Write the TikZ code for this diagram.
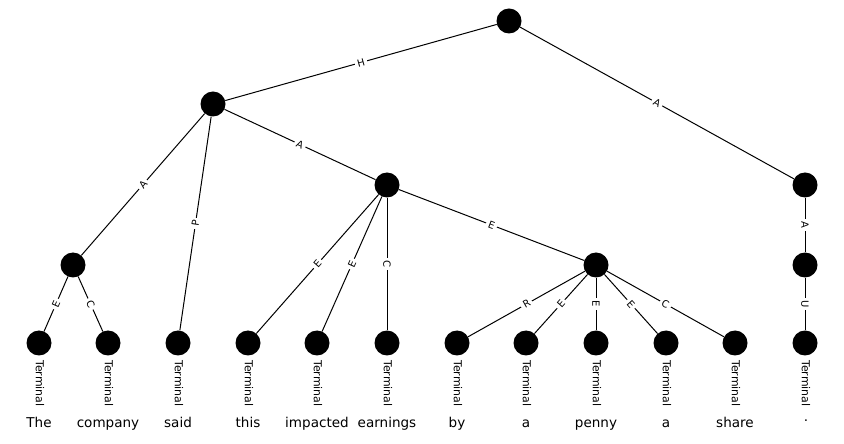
\documentclass[tikz,border=0pt]{standalone}
\usepackage{fontspec}
\setmainfont{DejaVu Sans}
\begin{document}
\begin{tikzpicture}[x=1bp,y=-1bp,
  vtx/.style={circle,fill=black,minimum size=25bp,inner sep=0pt},
  conn/.style={line width=1bp,black},
  elab/.style={midway,sloped,fill=white,inner sep=2.5bp,font=\fontsize{10}{11}\selectfont},
  vlab/.style={midway,rotate=-90,fill=white,inner sep=2.5bp,font=\fontsize{10}{11}\selectfont},
  termlab/.style={rotate=-90,anchor=west,inner sep=0pt,font=\fontsize{11}{12}\selectfont},
  word/.style={anchor=base,inner sep=0pt,font=\fontsize{13.6}{15}\selectfont}]
\useasboundingbox (0,0) rectangle (844,444);
% internal nodes
\node[vtx] (r) at (509,21) {};
\node[vtx] (n1) at (213,104) {};
\node[vtx] (n2) at (387,185) {};
\node[vtx] (n3) at (805,185) {};
\node[vtx] (n4) at (73,265) {};
\node[vtx] (n5) at (596,265) {};
\node[vtx] (n6) at (805,265) {};
% terminals
\foreach \i/\x in {1/39,2/108,3/178,4/248,5/317,6/387,7/457,8/526,9/596,10/666,11/735,12/805}{
  \node[vtx] (t\i) at (\x,343) {};
  \node[termlab] (tl\i) at (\x+1,360) {Terminal};
}
% words
\foreach \i/\x/\w in {1/39/The,2/108/company,3/178/said,4/248/this,5/317/impacted,6/387/earnings,7/457/by,8/526/a,9/596/penny,10/666/a,11/735/share}{
  \node[word] (w\i) at (\x,427) {\w};
}
\node[word] (w12) at (806,421.5) {.};
% edges
\draw[conn] (r) -- node[elab] {H} (n1);
\draw[conn] (r) -- node[elab] {A} (n3);
\draw[conn] (n1) -- node[elab] {A} (n4);
\draw[conn] (n1) -- node[elab] {P} (t3);
\draw[conn] (n1) -- node[elab] {A} (n2);
\draw[conn] (n4) -- node[elab] {E} (t1);
\draw[conn] (n4) -- node[elab] {C} (t2);
\draw[conn] (n2) -- node[elab] {E} (t4);
\draw[conn] (n2) -- node[elab] {E} (t5);
\draw[conn] (n2) -- node[vlab] {C} (t6);
\draw[conn] (n2) -- node[elab] {E} (n5);
\draw[conn] (n5) -- node[elab] {R} (t7);
\draw[conn] (n5) -- node[elab] {E} (t8);
\draw[conn] (n5) -- node[vlab] {E} (t9);
\draw[conn] (n5) -- node[elab] {E} (t10);
\draw[conn] (n5) -- node[elab] {C} (t11);
\draw[conn] (n3) -- node[vlab] {A} (n6);
\draw[conn] (n6) -- node[vlab] {U} (t12);
\end{tikzpicture}
\end{document}
